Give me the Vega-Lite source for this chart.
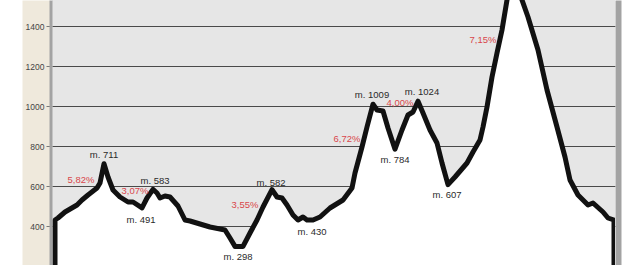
{
  "$schema": "https://vega.github.io/schema/vega-lite/v6.json",
  "width": 563,
  "height": 265,
  "autosize": {"type": "none"},
  "padding": {"left": 52, "top": 0, "right": 25, "bottom": 0},
  "background": "white",
  "config": {
    "view": {"fill": "#e6e6e6", "stroke": null},
    "font": "Liberation Sans"
  },
  "datasets": {
    "profile": [
      {"d": 0.6, "m": 0},
      {"d": 0.6, "m": 430},
      {"d": 1.2, "m": 440},
      {"d": 2.6, "m": 470},
      {"d": 5.0, "m": 505},
      {"d": 6.0, "m": 530},
      {"d": 7.2, "m": 555},
      {"d": 9.0, "m": 590},
      {"d": 9.6, "m": 615},
      {"d": 10.4, "m": 711},
      {"d": 11.2, "m": 645},
      {"d": 12.2, "m": 580},
      {"d": 13.6, "m": 545},
      {"d": 15.2, "m": 520},
      {"d": 16.2, "m": 520},
      {"d": 18.0, "m": 491},
      {"d": 19.0, "m": 540},
      {"d": 20.2, "m": 583},
      {"d": 21.0, "m": 565},
      {"d": 21.6, "m": 540},
      {"d": 22.6, "m": 550},
      {"d": 23.6, "m": 545},
      {"d": 25.2, "m": 500},
      {"d": 26.6, "m": 430},
      {"d": 27.6, "m": 425},
      {"d": 29.6, "m": 410},
      {"d": 31.6, "m": 395},
      {"d": 34.6, "m": 380},
      {"d": 35.6, "m": 340},
      {"d": 36.6, "m": 298},
      {"d": 38.2, "m": 298},
      {"d": 39.6, "m": 365},
      {"d": 41.0, "m": 430},
      {"d": 42.2, "m": 495},
      {"d": 44.0, "m": 582},
      {"d": 45.0, "m": 545},
      {"d": 46.0, "m": 540},
      {"d": 47.0, "m": 505},
      {"d": 48.2, "m": 455},
      {"d": 49.2, "m": 430},
      {"d": 50.2, "m": 445},
      {"d": 51.0, "m": 430},
      {"d": 52.2, "m": 430},
      {"d": 53.6, "m": 445},
      {"d": 55.6, "m": 490},
      {"d": 58.2, "m": 530},
      {"d": 60.0, "m": 590},
      {"d": 60.6, "m": 665},
      {"d": 62.0, "m": 795},
      {"d": 63.0, "m": 895},
      {"d": 64.2, "m": 1009},
      {"d": 65.0, "m": 980},
      {"d": 66.2, "m": 975},
      {"d": 67.2, "m": 890},
      {"d": 68.6, "m": 784},
      {"d": 70.0, "m": 880},
      {"d": 71.2, "m": 955},
      {"d": 72.2, "m": 970},
      {"d": 73.2, "m": 1024},
      {"d": 74.2, "m": 965},
      {"d": 75.6, "m": 880},
      {"d": 77.0, "m": 815},
      {"d": 78.0, "m": 715},
      {"d": 79.2, "m": 607},
      {"d": 80.6, "m": 645},
      {"d": 83.0, "m": 715},
      {"d": 84.2, "m": 770},
      {"d": 85.6, "m": 830},
      {"d": 86.2, "m": 895},
      {"d": 87.0, "m": 995},
      {"d": 88.0, "m": 1145},
      {"d": 89.0, "m": 1265},
      {"d": 90.0, "m": 1380},
      {"d": 92.0, "m": 1680},
      {"d": 94.0, "m": 1530},
      {"d": 95.2, "m": 1445},
      {"d": 97.2, "m": 1280},
      {"d": 99.0, "m": 1080},
      {"d": 101.0, "m": 895},
      {"d": 102.6, "m": 745},
      {"d": 103.6, "m": 630},
      {"d": 105.2, "m": 555},
      {"d": 107.2, "m": 505},
      {"d": 108.2, "m": 515},
      {"d": 110.2, "m": 470},
      {"d": 111.2, "m": 440},
      {"d": 112.4, "m": 430},
      {"d": 112.4, "m": 0}
    ],
    "heights": [
      {"d": 10.4, "m": 755, "label": "m. 711"},
      {"d": 20.6, "m": 625, "label": "m. 583"},
      {"d": 17.8, "m": 430, "label": "m. 491"},
      {"d": 43.8, "m": 615, "label": "m. 582"},
      {"d": 37.2, "m": 245, "label": "m. 298"},
      {"d": 52.0, "m": 370, "label": "m. 430"},
      {"d": 64.0, "m": 1055, "label": "m. 1009"},
      {"d": 74.0, "m": 1070, "label": "m. 1024"},
      {"d": 68.6, "m": 730, "label": "m. 784"},
      {"d": 79.0, "m": 555, "label": "m. 607"}
    ],
    "grades": [
      {"d": 5.8, "m": 630, "label": "5,82%"},
      {"d": 16.6, "m": 575, "label": "3,07%"},
      {"d": 38.6, "m": 505, "label": "3,55%"},
      {"d": 59.0, "m": 835, "label": "6,72%"},
      {"d": 69.6, "m": 1015, "label": "4,00%"},
      {"d": 86.2, "m": 1330, "label": "7,15%"}
    ]
  },
  "encoding": {
    "x": {"field": "d", "type": "quantitative", "axis": null,
          "scale": {"domain": [0, 112.6], "nice": false, "zero": false}},
    "y": {"field": "m", "type": "quantitative",
          "scale": {"domain": [205, 1530], "nice": false, "zero": false}}
  },
  "layer": [
    {
      "data": {"name": "profile"},
      "mark": {"type": "area", "fill": "white", "clip": true},
      "encoding": {
        "y": {"field": "m", "type": "quantitative",
              "axis": {"orient": "left", "title": null, "grid": false, "labels": false, "ticks": false,
                       "domain": true, "domainColor": "#efe9dc", "domainWidth": 28, "offset": 16, "zindex": 0}},
        "y2": {"datum": 0}
      }
    },
    {
      "data": {"name": "profile"},
      "mark": {"type": "line", "color": "#111", "strokeWidth": 5, "strokeJoin": "round", "strokeCap": "butt", "clip": true},
      "encoding": {
        "y": {"field": "m", "type": "quantitative",
              "axis": {"orient": "left", "values": [200, 400, 600, 800, 1000, 1200, 1400], "format": "d", "title": null,
                       "grid": true, "gridColor": "#4a4a4a", "gridWidth": 1, "gridOpacity": 1,
                       "domain": false, "zindex": 0,
                       "ticks": true, "tickColor": "#777", "tickSize": 6, "tickWidth": 1,
                       "labelFontSize": 8.5, "labelColor": "#444", "labelPadding": 2,
                       "labelFont": "Liberation Sans"}}
      }
    },
    {
      "data": {"name": "heights"},
      "mark": {"type": "text", "fontSize": 9.5, "color": "#2a2a2a", "baseline": "middle", "align": "center"},
      "encoding": {
        "y": {"field": "m", "type": "quantitative",
              "axis": {"orient": "left", "title": null, "grid": false, "labels": false, "ticks": false,
                       "domain": true, "domainColor": "#a3a3a3", "domainWidth": 3, "offset": 1.5, "zindex": 1}},
        "text": {"field": "label"}
      }
    },
    {
      "data": {"name": "grades"},
      "mark": {"type": "text", "fontSize": 9.5, "color": "#d9474b", "baseline": "middle", "align": "center"},
      "encoding": {
        "y": {"field": "m", "type": "quantitative",
              "axis": {"orient": "right", "title": null, "grid": false, "labels": false, "ticks": false,
                       "domain": true, "domainColor": "#a3a3a3", "domainWidth": 6, "offset": 3, "zindex": 1}},
        "text": {"field": "label"}
      }
    }
  ],
  "resolve": {"axis": {"y": "independent"}}
}
